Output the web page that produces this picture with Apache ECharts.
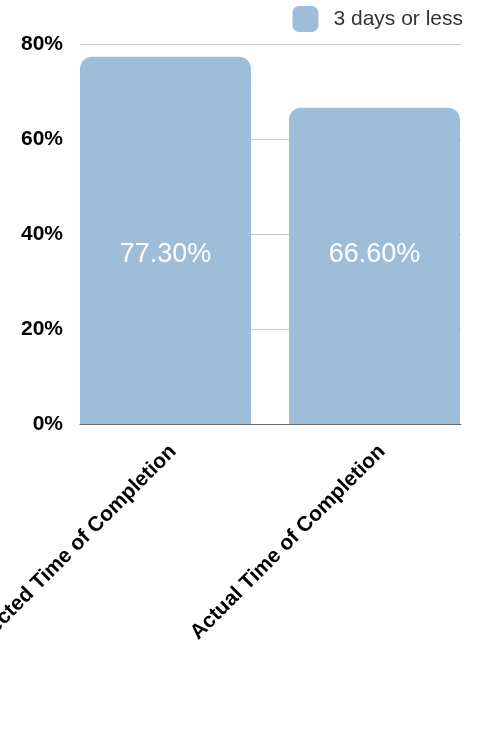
<!DOCTYPE html>
<html><head><meta charset="utf-8">
<script src="https://cdn.jsdelivr.net/npm/echarts@6/dist/echarts.min.js"></script>
<style>html,body{margin:0;padding:0;background:#fff}#c{width:483px;height:735px}</style>
</head><body><div id="c"></div>
<script>
const categories = ['Expected Time of Completion', 'Actual Time of Completion'];
const seriesName = '3 days or less';
const values = [77.3, 66.6];
const yTicks = [0, 20, 40, 60, 80];

const yMin = yTicks[0], yMax = yTicks[yTicks.length - 1], yStep = yTicks[1] - yTicks[0];
const chart = echarts.init(document.getElementById('c'), null, {renderer: 'canvas'});
chart.setOption({
  animation: false,
  legend: {
    top: 6, right: 20, padding: 0,
    itemWidth: 26, itemHeight: 26, itemGap: 10,
    icon: 'roundRect',
    textStyle: {fontFamily: 'Liberation Sans', fontSize: 21, color: '#333', padding: [0, 0, 0, 10]},
    data: [seriesName]
  },
  grid: [
    {left: 80, right: 22, top: 44, bottom: 311, containLabel: false, outerBoundsMode: 'none'},
    {left: 61, right: 4, top: 44, bottom: 311, containLabel: false, outerBoundsMode: 'none'}
  ],
  xAxis: [
    {
      type: 'category', data: categories, gridIndex: 0,
      axisTick: {show: false},
      axisLine: {show: true, lineStyle: {color: '#666', width: 1}},
      axisLabel: {show: false}
    },
    {
      type: 'category', data: categories, gridIndex: 1,
      axisTick: {show: false},
      axisLine: {show: false},
      axisLabel: {rotate: 45, interval: 0, margin: 17, verticalAlign: 'top', fontFamily: 'Liberation Sans', fontWeight: 'bold', fontSize: 21, color: '#000'}
    }
  ],
  yAxis: [
    {
      type: 'value', min: yMin, max: yMax, interval: yStep, gridIndex: 0,
      axisLine: {show: false}, axisTick: {show: false},
      splitLine: {lineStyle: {color: '#c8c8c8', width: 1}},
      axisLabel: {formatter: '{value}%', margin: 17, fontFamily: 'Liberation Sans', fontWeight: 'bold', fontSize: 21, color: '#000'}
    },
    {
      type: 'value', min: yMin, max: yMax, interval: yStep, gridIndex: 1, show: false
    }
  ],
  series: [{
    name: seriesName, type: 'bar', data: values,
    xAxisIndex: 1, yAxisIndex: 1,
    barWidth: 171,
    itemStyle: {color: '#9dbdd8', borderRadius: [12, 12, 0, 0]},
    label: {show: true, position: 'insideBottom', distance: 156, formatter: p => p.value.toFixed(2) + '%', color: '#fff', fontFamily: 'Liberation Sans', fontSize: 27}
  }]
});
</script></body></html>
